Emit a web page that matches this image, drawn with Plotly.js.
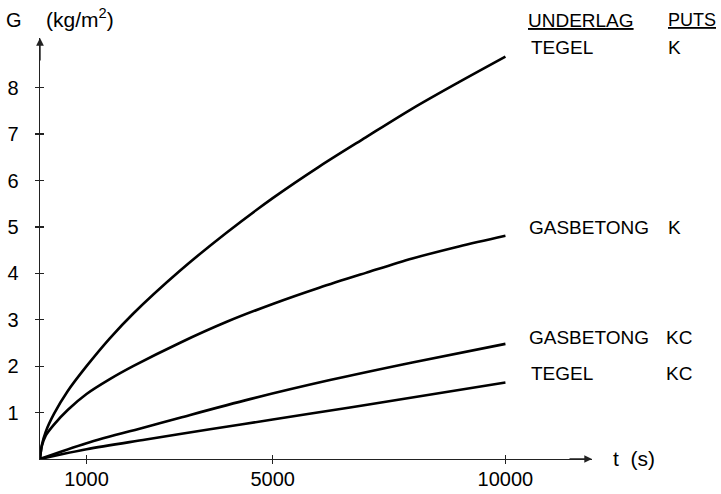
<!DOCTYPE html>
<html>
<head>
<meta charset="utf-8">
<script src="https://cdn.plot.ly/plotly-3.0.1.min.js"></script>
<style>html,body{margin:0;padding:0;background:#fff;}#chart{width:721px;height:494px;}</style>
</head>
<body>
<div id="chart"></div>
<script>
// ---- data ----
const tegelK_t = [0, 40, 120, 300, 600, 1000, 1500, 2000, 3000, 4000, 5000, 6000, 7000, 8000, 9000, 10000];
const tegelK_G = [0, 0.30, 0.58, 0.97, 1.47, 2.00, 2.60, 3.13, 4.05, 4.87, 5.62, 6.30, 6.93, 7.55, 8.12, 8.67];

const gasK_t = [0, 40, 120, 300, 600, 1000, 1500, 2000, 3000, 4000, 5000, 6000, 7000, 8000, 9000, 10000];
const gasK_G = [0, 0.28, 0.50, 0.74, 1.06, 1.40, 1.72, 2.00, 2.50, 2.95, 3.34, 3.69, 4.01, 4.32, 4.58, 4.81];

const gasKC_t = [0, 1000, 2277, 3008, 4511, 6230, 8000, 10000];
const gasKC_G = [0, 0.34, 0.69, 0.89, 1.29, 1.70, 2.08, 2.48];

const tegelKC_t = [0, 1000, 2277, 3652, 5000, 6660, 7663, 10000];
const tegelKC_G = [0, 0.21, 0.42, 0.64, 0.85, 1.11, 1.27, 1.65];

const xTicks = [1000, 5000, 10000];
const xTickText = ['1000', '5000', '10000'];
const yTicks = [1, 2, 3, 4, 5, 6, 7, 8];
const yTickText = ['1', '2', '3', '4', '5', '6', '7', '8'];

const seriesNames = ['TEGEL K', 'GASBETONG K', 'GASBETONG KC', 'TEGEL KC'];

// ---- layout geometry ----
const W = 721, H = 494;
const L = 40, R = 129, T = 38, B = 35;
const PW = W - L - R, PH = H - T - B;
const px = x => (x - L) / PW;        // pixel x -> paper
const py = y => (H - B - y) / PH;    // pixel y -> paper

const FONT = 'Liberation Sans, Arial, sans-serif';
const lineStyle = {color: '#000', width: 2.6, shape: 'spline', smoothing: 0.9};

const traces = [
  [tegelK_t, tegelK_G], [gasK_t, gasK_G], [gasKC_t, gasKC_G], [tegelKC_t, tegelKC_G]
].map((d, i) => ({
  x: d[0], y: d[1], type: 'scatter', mode: 'lines', name: seriesNames[i],
  line: lineStyle, hoverinfo: 'skip', showlegend: false
}));

// invisible trace on overlay axes so their extra ticks render
traces.push({x: [0], y: [0], xaxis: 'x2', yaxis: 'y2', mode: 'markers',
  marker: {opacity: 0}, showlegend: false, hoverinfo: 'skip'});

const XR = [0, 11860], YR = [0, 9.07];

function lbl(text, xpx, ypx, anchor, size) {
  return {xref: 'paper', yref: 'paper', x: px(xpx), y: py(ypx), text: text,
    showarrow: false, xanchor: anchor || 'left', yanchor: 'middle',
    font: {family: FONT, size: size || 19, color: '#000'}};
}

const annotations = [
  lbl('G', 14, 20, 'center', 20),
  lbl('(kg/m<sup>2</sup>)', 44, 18, 'left', 21),
  lbl('t  (s)', 611, 458, 'left', 21),
  lbl('<u>UNDERLAG</u>', 526, 20, 'left', 19),
  lbl('<u>PUTS</u>', 666, 20, 'left', 18),
  lbl('TEGEL', 529, 47.5, 'left', 19),
  lbl('K', 666, 47.5, 'left', 19),
  lbl('GASBETONG', 527, 227, 'left', 19),
  lbl('K', 666, 227, 'left', 19),
  lbl('GASBETONG', 527, 337.5, 'left', 19),
  lbl('KC', 664, 337.5, 'left', 19),
  lbl('TEGEL', 529, 373.5, 'left', 19),
  lbl('KC', 664, 373.5, 'left', 19),
  // axis arrowheads
  {xref: 'x', yref: 'y', x: XR[1], y: 0, ax: -24, ay: 0, text: '', showarrow: true,
   arrowhead: 2, arrowsize: 1.1, arrowwidth: 1.4, arrowcolor: '#222'},
  {xref: 'x', yref: 'y', x: 0, y: YR[1], ax: 0, ay: 24, text: '', showarrow: true,
   arrowhead: 2, arrowsize: 1.1, arrowwidth: 1.4, arrowcolor: '#222'}
];

const layout = {
  width: W, height: H,
  margin: {l: L, r: R, t: T, b: B, pad: 0},
  paper_bgcolor: '#fff', plot_bgcolor: '#fff',
  showlegend: false,
  xaxis: {range: XR, showgrid: false, zeroline: false, showline: true,
    linecolor: '#222', linewidth: 1.4, ticks: 'inside', ticklen: 4, tickwidth: 1.2,
    tickcolor: '#222', tickvals: xTicks, ticktext: xTickText, ticklabelstandoff: 2,
    tickfont: {family: FONT, size: 20, color: '#000'}, fixedrange: true},
  yaxis: {range: YR, showgrid: false, zeroline: false, showline: true,
    linecolor: '#222', linewidth: 1.4, ticks: 'outside', ticklen: 4, tickwidth: 1.2,
    tickcolor: '#222', tickvals: yTicks, ticktext: yTickText, ticklabelstandoff: 12,
    tickfont: {family: FONT, size: 20, color: '#000'}, fixedrange: true},
  xaxis2: {overlaying: 'x', range: XR, showgrid: false, zeroline: false, showline: false,
    ticks: 'outside', ticklen: 4, tickwidth: 1.2, tickcolor: '#222', tickvals: xTicks,
    showticklabels: false, fixedrange: true},
  yaxis2: {overlaying: 'y', range: YR, showgrid: false, zeroline: false, showline: false,
    ticks: 'inside', ticklen: 4, tickwidth: 1.2, tickcolor: '#222', tickvals: yTicks,
    showticklabels: false, fixedrange: true},
  annotations: annotations
};

Plotly.newPlot('chart', traces, layout, {staticPlot: true, displayModeBar: false});
</script>
</body>
</html>
